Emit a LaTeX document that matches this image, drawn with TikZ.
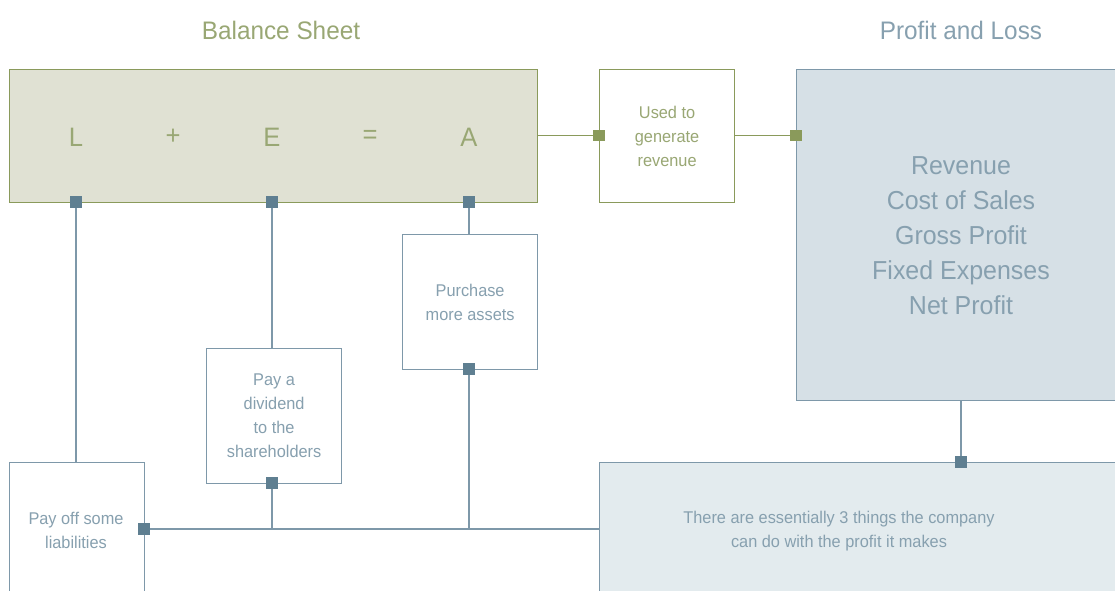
\documentclass[tikz,border=0pt]{standalone}
\usepackage{fontspec}
\setmainfont{Liberation Sans}[FakeStretch=0.96]
\definecolor{olive}{HTML}{8A9A5B}
\definecolor{olivetxt}{HTML}{99A774}
\definecolor{olivefill}{HTML}{E0E1D3}
\definecolor{steel}{HTML}{7E98A9}
\definecolor{steeltxt}{HTML}{87A0AF}
\definecolor{mark}{HTML}{5F7F91}
\definecolor{plfill}{HTML}{D6E0E6}
\definecolor{botfill}{HTML}{E3EBEE}
\tikzset{
  box/.style={draw, line width=0.9pt, inner sep=0pt, align=center, anchor=north west},
  gbox/.style={box, draw=olive, text=olivetxt},
  bbox/.style={box, draw=steel, text=steeltxt},
  small/.style={font=\fontsize{12.75}{18}\selectfont},
  gmark/.style={fill=olive, draw=none, minimum size=8.5pt, inner sep=0pt},
  bmark/.style={fill=mark, draw=none, minimum size=8.5pt, inner sep=0pt},
  gline/.style={draw=olive, line width=0.9pt},
  bline/.style={draw=steel, line width=0.9pt},
  eq/.style={text=olivetxt, font=\fontsize{20}{22}\selectfont},
  title/.style={font=\fontsize{19}{22}\selectfont}
}
\begin{document}
\begin{tikzpicture}[x=0.75pt,y=-0.75pt]
\useasboundingbox (0,0) rectangle (1115,590);
\clip (0,0) rectangle (1115,590);
% titles
\node[title, text=olivetxt] (tbs) at (281,30) {Balance Sheet};
\node[title, text=steeltxt] (tpl) at (961,30) {Profit and Loss};
% balance sheet box
\node[gbox, fill=olivefill, minimum width=528*0.75pt, minimum height=133*0.75pt] (bs) at (9,69) {};
\node[eq] (L) at (76,137) {L};
\node[eq] (plus) at (173,137) {+};
\node[eq] (E) at (272,137) {E};
\node[eq] (eqs) at (370,137) {=};
\node[eq] (A) at (469,137) {A};
% used to generate revenue
\node[gbox, fill=white, small, minimum width=135*0.75pt, minimum height=133*0.75pt] (used) at (599,69) {Used to\\generate\\revenue};
% P&L box
\node[bbox, fill=plfill, minimum width=330*0.75pt, minimum height=331*0.75pt] (pl) at (796,69) {};
\node[text=steeltxt, align=center, font=\fontsize{19.5}{26.2}\selectfont] (pltxt) at (961,236)
  {Revenue\\Cost of Sales\\Gross Profit\\Fixed Expenses\\Net Profit};
% bottom box
\node[bbox, fill=botfill, minimum width=530*0.75pt, minimum height=140*0.75pt] (bot) at (599,462) {};
\node[text=steeltxt, small, align=center] (bottxt) at (839,531)
  {There are essentially 3 things the company\\can do with the profit it makes};
% three options
\node[bbox, fill=white, small, minimum width=135*0.75pt, minimum height=135*0.75pt] (purch) at (402,234) {Purchase\\more assets};
\node[bbox, fill=white, small, minimum width=135*0.75pt, minimum height=135*0.75pt] (div) at (206,348) {Pay a\\dividend\\to the\\shareholders};
\node[bbox, fill=white, minimum width=135*0.75pt, minimum height=140*0.75pt] (payoff) at (9,462) {};
\node[text=steeltxt, small, align=center] (payofftxt) at (76,530) {Pay off some\\liabilities};
% markers
\node[gmark] (m1) at (599,135.5) {};
\node[gmark] (m2) at (796,135.5) {};
\node[bmark] (mL) at (76,202) {};
\node[bmark] (mE) at (272,202) {};
\node[bmark] (mA) at (469,202) {};
\node[bmark] (mpur) at (469,369) {};
\node[bmark] (mdiv) at (272,483) {};
\node[bmark] (mpay) at (144,529) {};
\node[bmark] (mbot) at (961,462) {};
\coordinate (jdiv) at (272,529);
\coordinate (jpur) at (469,529);
% connectors
\draw[gline] (bs.east |- m1) -- (m1);
\draw[gline] (used.east |- m2) -- (m2);
\draw[bline] (pl.south -| mbot) -- (mbot);
\draw[bline] (mL) -- (payoff.north -| mL);
\draw[bline] (mE) -- (div.north -| mE);
\draw[bline] (mA) -- (purch.north -| mA);
\draw[bline] (mdiv) -- (jdiv);
\draw[bline] (mpur) -- (jpur);
\draw[bline] (mpay) -- (bot.west |- mpay);
% redraw markers on top
\node[gmark] at (m1) {};
\node[gmark] at (m2) {};
\foreach \m in {mL,mE,mA,mpur,mdiv,mpay,mbot} \node[bmark] at (\m) {};
\end{tikzpicture}
\end{document}
